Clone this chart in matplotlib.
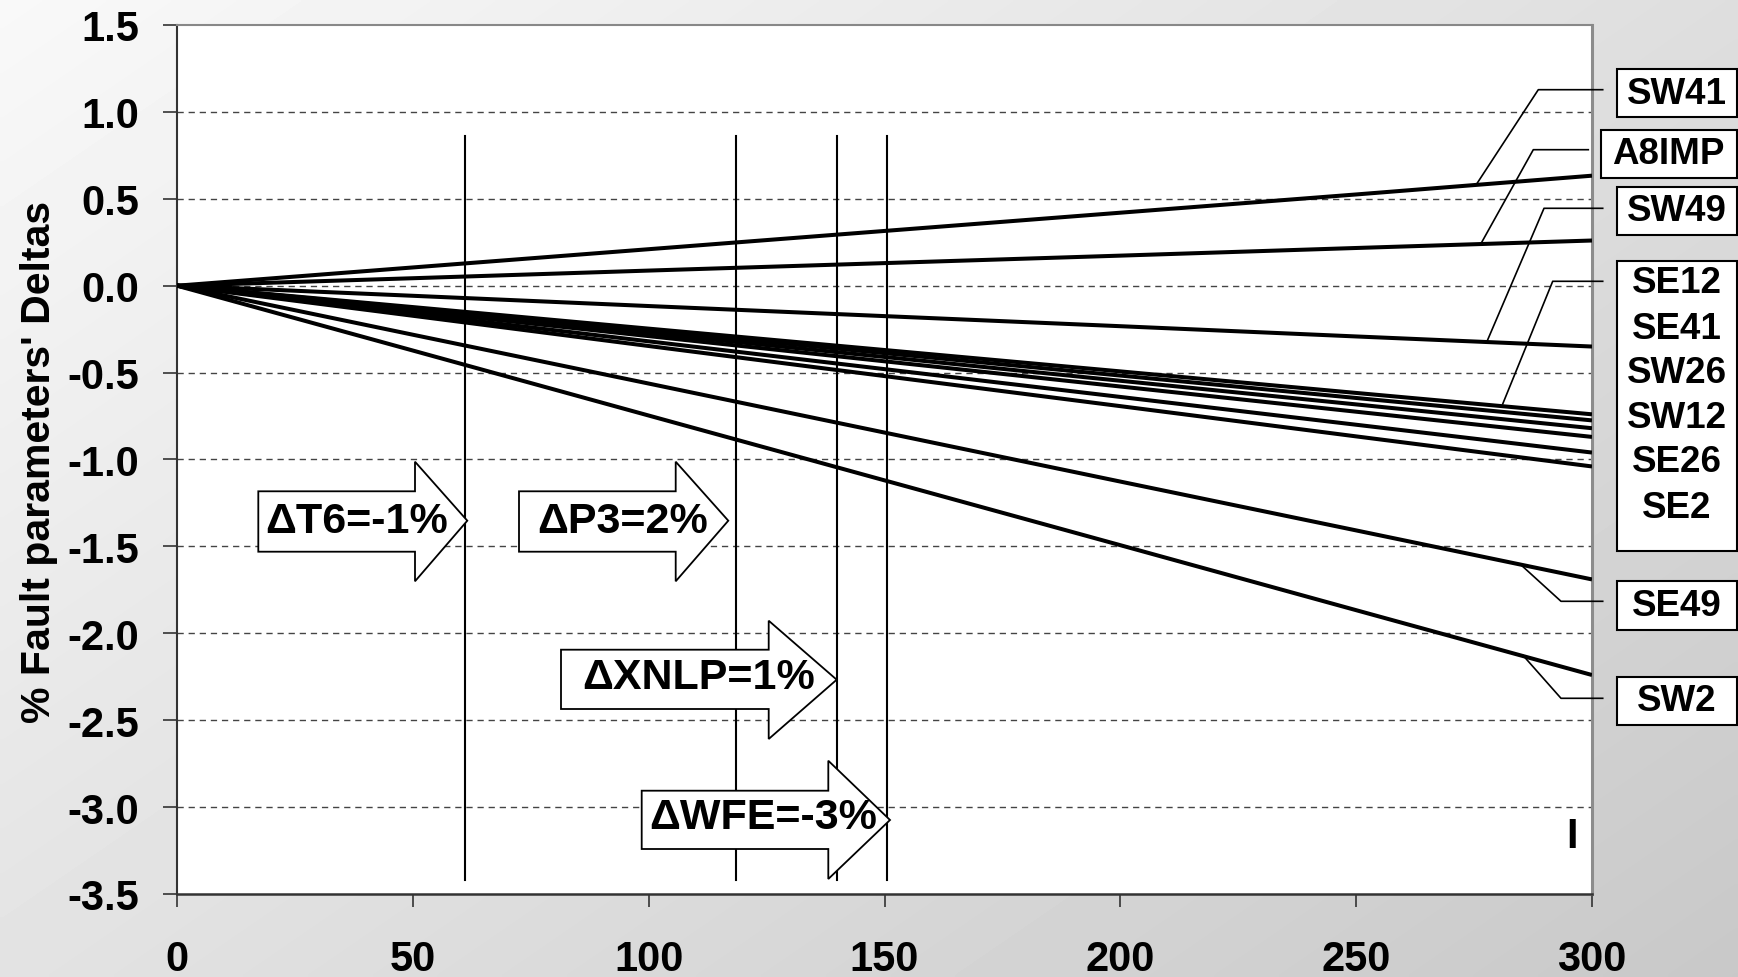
import numpy as np
import matplotlib
matplotlib.use("Agg")
import matplotlib.pyplot as plt
from matplotlib.patches import Polygon, Rectangle
from matplotlib.lines import Line2D

# ---------------- data ----------------
x_vals = [0, 50, 100, 150, 200, 250, 300]
series_names = ["SW41", "A8IMP", "SW49", "SE12", "SE41", "SW26", "SW12",
                "SE26", "SE2", "SE49", "SW2"]
SW41 = [0, 0.105, 0.21, 0.315, 0.42, 0.525, 0.633]
A8IMP = [0, 0.043, 0.087, 0.13, 0.173, 0.217, 0.26]
SW49 = [0, -0.058, -0.117, -0.175, -0.233, -0.292, -0.35]
SE12 = [0, -0.123, -0.247, -0.37, -0.493, -0.617, -0.74]
SE41 = [0, -0.129, -0.258, -0.388, -0.517, -0.646, -0.775]
SW26 = [0, -0.137, -0.273, -0.41, -0.547, -0.683, -0.82]
SW12 = [0, -0.145, -0.29, -0.435, -0.58, -0.725, -0.87]
SE26 = [0, -0.16, -0.32, -0.48, -0.64, -0.80, -0.96]
SE2 = [0, -0.173, -0.347, -0.52, -0.693, -0.867, -1.04]
SE49 = [0, -0.282, -0.563, -0.845, -1.127, -1.408, -1.69]
SW2 = [0, -0.373, -0.747, -1.12, -1.493, -1.867, -2.24]
series_values = [SW41, A8IMP, SW49, SE12, SE41, SW26, SW12, SE26, SE2, SE49, SW2]

step_x = [61, 118.5, 140, 150.5]
step_labels = ["ΔT6=-1%", "ΔP3=2%", "ΔXNLP=1%", "ΔWFE=-3%"]

x_ticks = [0, 50, 100, 150, 200, 250, 300]
y_ticks = [-3.5, -3.0, -2.5, -2.0, -1.5, -1.0, -0.5, 0.0, 0.5, 1.0, 1.5]

box_groups = [["SW41"], ["A8IMP"], ["SW49"],
              ["SE12", "SE41", "SW26", "SW12", "SE26", "SE2"],
              ["SE49"], ["SW2"]]

# ---------------- figure ----------------
W, H = 1738, 978
FONT = ["Liberation Sans", "DejaVu Sans"]
plt.rcParams["font.family"] = FONT
fig = plt.figure(figsize=(W / 100, H / 100), dpi=100)


def fx(px):
    return px / W


def fy(py):
    return 1 - py / H


# gradient background
bg = fig.add_axes([0, 0, 1, 1], zorder=-10)
gx, gy = np.meshgrid(np.linspace(0, 1, 300), np.linspace(0, 1, 200))
grad = 0.975 - 0.19 * (0.55 * gx + 0.45 * gy)
bg.imshow(grad, cmap="gray", vmin=0, vmax=1, aspect="auto",
          extent=[0, 1, 0, 1], origin="upper", interpolation="bilinear")
bg.set_axis_off()

L, R, T, B = 177, 1592, 26, 895
ax = fig.add_axes([fx(L), fy(B), (R - L) / W, (B - T) / H])
ax.set_facecolor("white")
ax.set_xlim(0, 300)
ax.set_ylim(-3.5, 1.5)

for yv in y_ticks[1:-1]:
    ax.axhline(yv, color="#444444", lw=1.0, ls=(0, (4.5, 3.5)), zorder=1)

for vals in series_values:
    ax.plot(x_vals, vals, color="black", lw=2.9, solid_capstyle="butt", zorder=3)

for sx in step_x:
    ax.plot([sx, sx], [-3.42, 0.86], color="black", lw=1.5, zorder=2)

ax.set_xticks(x_ticks)
ax.set_xticklabels([str(v) for v in x_ticks])
ax.set_yticks(y_ticks)
ax.set_yticklabels([f"{v:.1f}" for v in y_ticks])
ax.tick_params(axis="y", direction="out", length=10, width=1.2, color="#333333",
               pad=17, labelsize=30)
ax.tick_params(axis="x", direction="out", length=9.5, width=1.2, color="#333333",
               pad=23, labelsize=30)
for lab in ax.get_xticklabels() + ax.get_yticklabels():
    lab.set_fontweight("bold")

ax.spines["left"].set_color("#333333")
ax.spines["left"].set_linewidth(1.5)
ax.spines["bottom"].set_color("#333333")
ax.spines["bottom"].set_linewidth(1.8)
ax.spines["top"].set_color("#888888")
ax.spines["top"].set_linewidth(1.5)
ax.spines["right"].set_color("#8c8c8c")
ax.spines["right"].set_linewidth(2.2)

fig.text(fx(39), fy(462), "% Fault parameters' Deltas", rotation=90,
         ha="center", va="center", fontsize=29.5, fontweight="bold")

# block arrows (pixel geometry)
arrows = [
    (258.3, 492.3, 552.7, 415, 462.7, 582.3, 467.3, 521.7, 356.7, 521.7),
    (519, 492.3, 552.7, 675.7, 462.7, 582.3, 728.3, 521.7, 623, 521.7),
    (561, 650.7, 710, 768.7, 621.7, 740, 836.7, 680.7, 699, 678),
    (641.7, 791.7, 850, 828.3, 761.7, 880, 890, 821, 763, 818),
]
for (bl, bt, bb, hb, ht, hbot, tx, ty, cx, cy), lab in zip(arrows, step_labels):
    pts = [(bl, bt), (hb, bt), (hb, ht), (tx, ty), (hb, hbot), (hb, bb), (bl, bb)]
    poly = Polygon([(fx(p), fy(q)) for p, q in pts], closed=True,
                   transform=fig.transFigure, facecolor="white",
                   edgecolor="black", lw=1.3, zorder=5)
    fig.add_artist(poly)
    fig.text(fx(cx), fy(cy), lab, ha="center", va="center", fontsize=31,
             fontweight="bold", zorder=6)

fig.text(fx(1571.7), fy(836.7), "I", ha="center", va="center", fontsize=30,
         fontweight="bold")

# right-hand label boxes
boxes = [
    (1616.7, 70, 118.3, [94]),
    (1601, 130.7, 179, [155]),
    (1616.7, 188.3, 236, [212]),
    (1616.7, 261.7, 552.3, [283.3, 329.3, 373.3, 418.3, 462.7, 508.3]),
    (1616.7, 581.7, 630.7, [606.7]),
    (1616.7, 678.3, 726, [702]),
]
for (bl, bt, bb, ys), names in zip(boxes, box_groups):
    br = 1736.5
    rect = Rectangle((fx(bl), fy(bb)), (br - bl) / W, (bb - bt) / H,
                     transform=fig.transFigure, facecolor="white",
                     edgecolor="black", lw=1.5)
    fig.add_artist(rect)
    for nm, yy in zip(names, ys):
        fig.text(fx((bl + br) / 2), fy(yy), nm, ha="center", va="center",
                 fontsize=26.5, fontweight="bold")

# leader lines
leaders = [
    [(1602.7, 90.7), (1538.3, 90.7), (1476, 186)],
    [(1588.3, 150.7), (1533.3, 150.7), (1481.7, 243.3)],
    [(1602.7, 209.3), (1544, 209.3), (1487.3, 341.7)],
    [(1602.7, 282.3), (1552.7, 282.3), (1502.7, 405)],
    [(1602.7, 602.3), (1561, 602.3), (1520, 565)],
    [(1602.7, 699.3), (1561, 699.3), (1523.3, 656.7)],
]
for pts in leaders:
    fig.add_artist(Line2D([fx(p) for p, _ in pts], [fy(q) for _, q in pts],
                          transform=fig.transFigure, color="black", lw=1.2))

fig.savefig("out.png", dpi=100)
